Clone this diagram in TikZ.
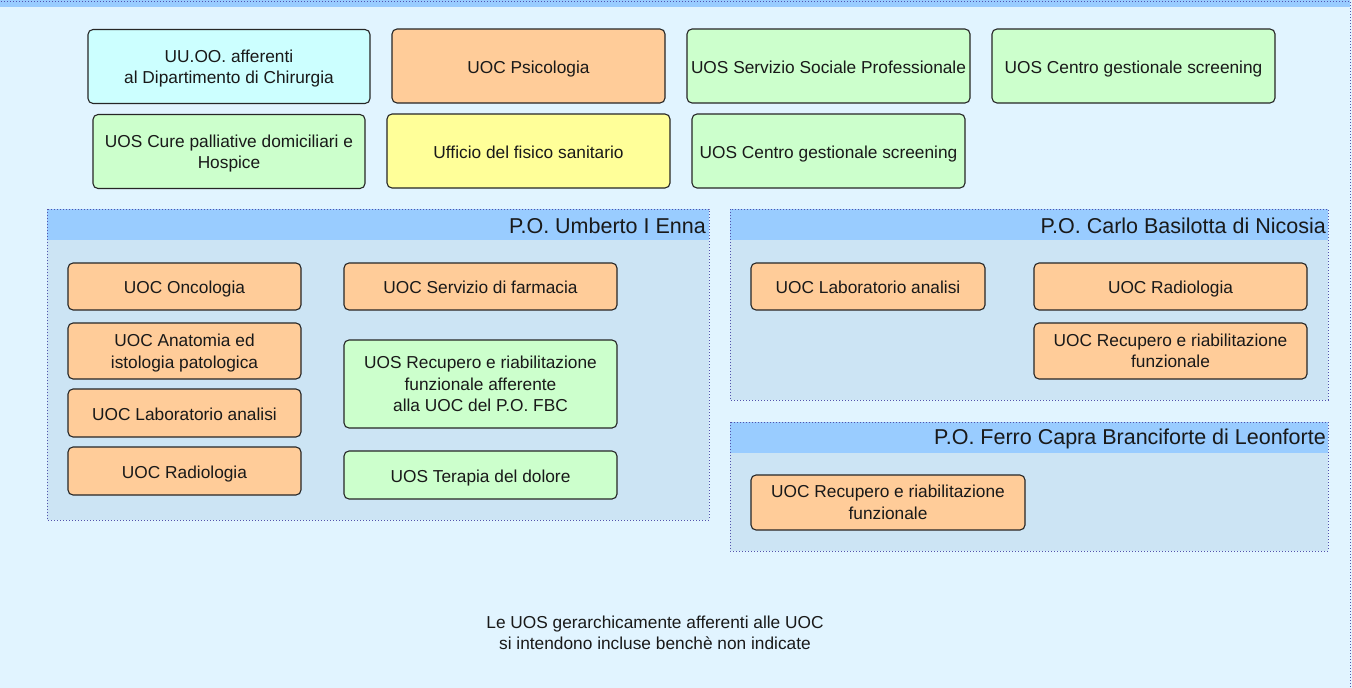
\documentclass[tikz,border=0pt]{standalone}
\usepackage{fontspec}
\setmainfont{Liberation Sans}
\begin{document}
\begin{tikzpicture}[x=1pt,y=-1pt,
  box/.style={draw=black!85, line width=1.1pt, rounded corners=5pt, align=center,
    inner sep=2pt, font=\fontsize{17.3}{21.5}\selectfont, text=black!90},
  one/.style={text height=16pt, text depth=1.4pt},
  nodesc/.style={text depth=0pt},
  dots/.style={draw=blue!35!gray, line width=0.7pt, dash pattern=on 0.8pt off 2.2pt},
  header/.style={anchor=east, inner sep=0pt, font=\fontsize{21.5}{25}\selectfont, text=black!90}
]
\definecolor{outerbg}{RGB}{225,244,255}
\definecolor{hdr}{RGB}{153,204,255}
\definecolor{inbg}{RGB}{204,228,244}
\definecolor{uoc}{RGB}{255,204,153}
\definecolor{uos}{RGB}{204,255,204}
\definecolor{cy}{RGB}{204,255,255}
\definecolor{ye}{RGB}{255,255,153}
\tikzset{orangebox/.style={box, fill=uoc}, greenbox/.style={box, fill=uos},
  cyanbox/.style={box, fill=cy}, yellowbox/.style={box, fill=ye}}
\useasboundingbox (0,0) rectangle (1352,688);
% outer container
\fill[outerbg] (0,0) rectangle (1352,688);
\fill[hdr] (0,0) rectangle (1350,7);
\draw[dots] (-5,1.5) -- (1350,1.5) -- (1350,695);

% top boxes
\node[cyanbox, nodesc, minimum width=282pt, minimum height=74pt] (chir) at (229,66.5) {UU.OO. afferenti\\al Dipartimento di Chirurgia};
\node[orangebox, one, minimum width=273pt, minimum height=74pt] (psi) at (528.5,66) {UOC Psicologia};
\node[greenbox, one, minimum width=283pt, minimum height=74pt] (soc) at (828.5,66) {UOS Servizio Sociale Professionale};
\node[greenbox, one, minimum width=283pt, minimum height=74pt] (scr1) at (1133.5,66) {UOS Centro gestionale screening};
\node[greenbox, nodesc, minimum width=272pt, minimum height=74pt] (cure) at (229,151.5) {UOS Cure palliative domiciliari e\\Hospice};
\node[yellowbox, one, minimum width=283pt, minimum height=74pt] (fis) at (528.5,151) {Ufficio del fisico sanitario};
\node[greenbox, one, minimum width=273pt, minimum height=74pt] (scr2) at (828.5,151) {UOS Centro gestionale screening};

% container 1
\fill[inbg] (47,209) rectangle (709,520);
\fill[hdr] (47,209) rectangle (709,240);
\draw[dots] (47,209) rectangle (709,520);
\node[header] (h1) at (706,226) {P.O. Umberto I Enna};

\node[orangebox, one, minimum width=233pt, minimum height=47pt] (onc) at (184.5,286.5) {UOC Oncologia};
\node[orangebox, nodesc, minimum width=233pt, minimum height=56pt] (ana) at (184.5,351) {UOC Anatomia ed\\istologia patologica};
\node[orangebox, one, minimum width=233pt, minimum height=48pt] (lab1) at (184.5,413) {UOC Laboratorio analisi};
\node[orangebox, one, minimum width=233pt, minimum height=48pt] (rad1) at (184.5,471) {UOC Radiologia};
\node[orangebox, one, minimum width=273pt, minimum height=47pt] (farm) at (480.5,286.5) {UOC Servizio di farmacia};
\node[greenbox, minimum width=273pt, minimum height=88pt] (rec1) at (480.5,384) {UOS Recupero e riabilitazione\\funzionale afferente\\alla UOC del P.O. FBC};
\node[greenbox, one, minimum width=273pt, minimum height=48pt] (dol) at (480.5,475) {UOS Terapia del dolore};

% container 2
\fill[inbg] (730,209) rectangle (1328,400);
\fill[hdr] (730,209) rectangle (1328,240);
\draw[dots] (730,209) rectangle (1328,400);
\node[header] (h2) at (1326,226) {P.O. Carlo Basilotta di Nicosia};

\node[orangebox, one, minimum width=234pt, minimum height=47pt] (lab2) at (868,286.5) {UOC Laboratorio analisi};
\node[orangebox, one, minimum width=273pt, minimum height=47pt] (rad2) at (1170.5,286.5) {UOC Radiologia};
\node[orangebox, minimum width=273pt, minimum height=56pt] (rec2) at (1170.5,351) {UOC Recupero e riabilitazione\\funzionale};

% container 3
\fill[inbg] (730,422) rectangle (1328,551);
\fill[hdr] (730,422) rectangle (1328,453);
\draw[dots] (730,422) rectangle (1328,551);
\node[header] (h3) at (1326,439) {P.O. Ferro Capra Branciforte di Leonforte};

\node[orangebox, minimum width=274pt, minimum height=55pt] (rec3) at (888,502.5) {UOC Recupero e riabilitazione\\funzionale};

% note
\node[align=center, font=\fontsize{17.3}{21.5}\selectfont, text=black!90] (note) at (655,633) {Le UOS gerarchicamente afferenti alle UOC\\si intendono incluse benchè non indicate};
\end{tikzpicture}
\end{document}
